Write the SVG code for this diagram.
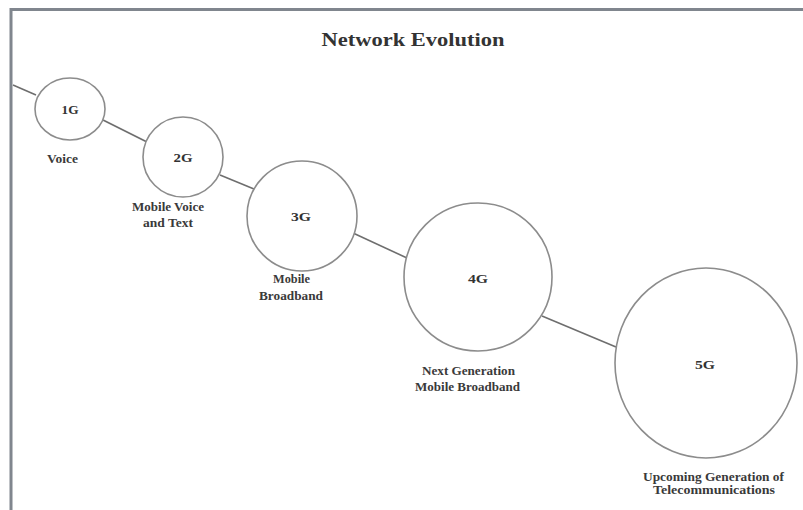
<svg xmlns="http://www.w3.org/2000/svg" width="803" height="510" viewBox="0 0 803 510">
<style>
  .frame { stroke: #80868e; stroke-width: 3; fill: none; }
  .node { fill: #ffffff; stroke: #8c8c8c; stroke-width: 1.6; }
  .conn { stroke: #6e6e6e; stroke-width: 1.6; fill: none; }
  .title { font-family: "Liberation Serif", serif; font-size: 19px; font-weight: bold; fill: #333; text-anchor: middle; }
  .gen { font-family: "Liberation Serif", serif; font-size: 13.5px; font-weight: bold; fill: #333; text-anchor: middle; }
  .lbl { font-family: "Liberation Serif", serif; font-size: 11.5px; font-weight: bold; fill: #3a3a3a; text-anchor: middle; }
</style>
<rect width="803" height="510" fill="#ffffff"/>
<path class="frame" d="M11,512 V9.5 H803"/>
<text class="title" x="413" y="46" textLength="183" lengthAdjust="spacingAndGlyphs">Network Evolution</text>
<g id="connectors">
  <line class="conn" x1="13" y1="85" x2="36" y2="95"/>
  <line class="conn" x1="103" y1="120" x2="147" y2="142"/>
  <line class="conn" x1="220" y1="175" x2="254" y2="189"/>
  <line class="conn" x1="353" y1="233" x2="407" y2="258"/>
  <line class="conn" x1="542" y1="316" x2="616" y2="347"/>
</g>
<g id="node-1g">
  <ellipse class="node" cx="70" cy="109" rx="35" ry="31"/>
  <text class="gen" x="70" y="114" textLength="17" lengthAdjust="spacingAndGlyphs">1G</text>
  <text class="lbl" x="62.5" y="163" textLength="31" lengthAdjust="spacingAndGlyphs">Voice</text>
</g>
<g id="node-2g">
  <circle class="node" cx="183" cy="157" r="40"/>
  <text class="gen" x="183" y="162" textLength="19" lengthAdjust="spacingAndGlyphs">2G</text>
  <text class="lbl" x="168" y="211" textLength="72" lengthAdjust="spacingAndGlyphs">Mobile Voice</text>
  <text class="lbl" x="168" y="227" textLength="50" lengthAdjust="spacingAndGlyphs">and Text</text>
</g>
<g id="node-3g">
  <circle class="node" cx="302" cy="216" r="55"/>
  <text class="gen" x="301" y="221" textLength="20" lengthAdjust="spacingAndGlyphs">3G</text>
  <text class="lbl" x="291.5" y="283" textLength="37" lengthAdjust="spacingAndGlyphs">Mobile</text>
  <text class="lbl" x="291" y="300" textLength="64" lengthAdjust="spacingAndGlyphs">Broadband</text>
</g>
<g id="node-4g">
  <circle class="node" cx="478" cy="277" r="74"/>
  <text class="gen" x="478" y="283" textLength="20" lengthAdjust="spacingAndGlyphs">4G</text>
  <text class="lbl" x="468.5" y="375" textLength="93" lengthAdjust="spacingAndGlyphs">Next Generation</text>
  <text class="lbl" x="467.5" y="391" textLength="105" lengthAdjust="spacingAndGlyphs">Mobile Broadband</text>
</g>
<g id="node-5g">
  <ellipse class="node" cx="706" cy="363" rx="91" ry="95"/>
  <text class="gen" x="705" y="369" textLength="20" lengthAdjust="spacingAndGlyphs">5G</text>
  <text class="lbl" x="713.5" y="481" textLength="141" lengthAdjust="spacingAndGlyphs">Upcoming Generation of</text>
  <text class="lbl" x="714" y="494" textLength="122" lengthAdjust="spacingAndGlyphs">Telecommunications</text>
</g>
</svg>
